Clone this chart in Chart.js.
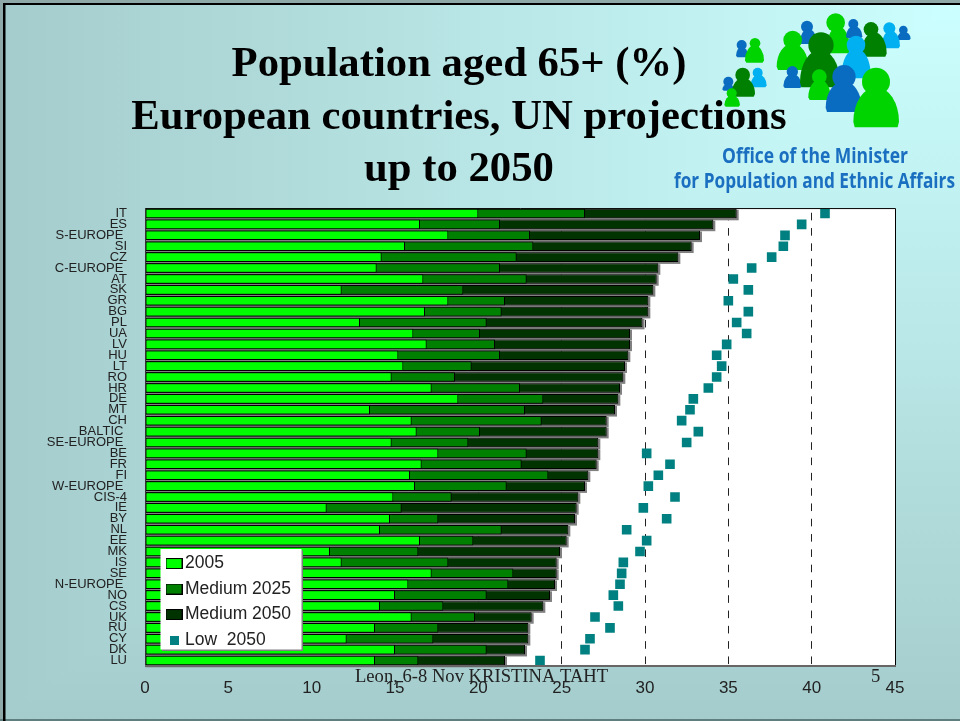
<!DOCTYPE html>
<html><head><meta charset="utf-8">
<style>html,body{margin:0;padding:0;background:#a5cccc}canvas{display:block}</style>
<script src="https://cdn.jsdelivr.net/npm/chart.js@4"></script>
</head><body>
<canvas id="c" width="960" height="721"></canvas>
<script>
const categories = ["IT","ES","S-EUROPE ","SI","CZ","C-EUROPE ","AT","SK","GR","BG","PL","UA","LV","HU","LT","RO","HR","DE","MT","CH","BALTIC ","SE-EUROPE ","BE","FR","FI","W-EUROPE ","CIS-4","IE","BY","NL","EE","MK","IS","SE","N-EUROPE ","NO","CS","UK","RU","CY","DK","LU"];
const values2005 = [20.0,16.5,18.2,15.6,14.2,13.9,16.7,11.8,18.2,16.8,12.9,16.1,16.9,15.2,15.5,14.8,17.2,18.8,13.5,16.0,16.3,14.8,17.6,16.6,15.9,16.2,14.9,10.9,14.7,14.1,16.5,11.1,11.8,17.2,15.8,15.0,14.1,16.0,13.8,12.1,15.0,13.8];
const medium2025 = [26.4,21.3,23.1,23.3,22.3,21.3,22.9,19.1,21.6,21.4,20.5,20.1,21.0,21.3,19.6,18.6,22.5,23.9,22.8,23.8,20.1,19.4,22.9,22.6,24.2,21.7,18.4,15.4,17.6,21.4,19.7,16.4,18.2,22.1,21.8,20.5,17.9,19.8,17.6,17.3,20.5,16.4];
const medium2050 = [35.5,34.1,33.3,32.8,32.0,30.8,30.7,30.5,30.2,30.2,29.85,29.1,29.1,29.0,28.8,28.7,28.5,28.4,28.2,27.7,27.7,27.2,27.2,27.1,26.6,26.4,26.0,25.9,25.8,25.4,25.3,24.9,24.7,24.7,24.6,24.3,23.9,23.2,23.0,23.0,22.8,21.6];
const low2050 = [40.8,39.4,38.4,38.3,37.6,36.4,35.3,36.2,35.0,36.2,35.5,36.1,34.9,34.3,34.6,34.3,33.8,32.9,32.7,32.2,33.2,32.5,30.1,31.5,30.8,30.2,31.8,29.9,31.3,28.9,30.1,29.7,28.7,28.6,28.5,28.1,28.4,27.0,27.9,26.7,26.4,23.7];
const seriesNames = ["2005","Medium 2025","Medium 2050","Low  2050"];
const seriesColors = ["#00ff00","#008000","#003300","#008080"];
const titleLines = ["Population aged 65+ (%)","European countries, UN projections","up to 2050"];
const xTicks = [0,5,10,15,20,25,30,35,40,45];
const logoLines = ["Office of the Minister","for Population and Ethnic Affairs"];
const footerText = "Leon, 6-8 Nov KRISTINA TAHT";
const footerPage = "5";
// logo figures: head x, head y, head r, body left, body right, body bottom, colour (drawn at 1/3 scale)
const BL="#0a6cc0",GR="#00d400",DG="#008000",LB="#00b0f0";
const logoPeople = [
 [245,135,15,228,264,172,BL],[285,130,16,255,312,188,GR],
 [441,80,18,420,470,132,BL],[527,68,28,500,570,160,GR],[580,72,15,558,607,115,BL],
 [730,90,13,712,752,120,BL],[688,85,18,665,720,145,LB],[633,88,22,605,680,170,DG],
 [398,120,28,350,445,210,GR],[588,135,28,545,632,235,LB],[397,215,17,370,425,264,BL],
 [483,135,38,420,540,262,DG],[478,230,22,445,512,300,GR],[552,230,35,497,605,336,BL],
 [648,245,42,580,717,382,GR],[293,218,15,272,320,262,LB],[205,245,15,187,222,272,BL],
 [248,225,22,215,285,290,DG],[215,280,15,193,240,320,GR]
];

function swatch(color,w,h,border){
  const s=document.createElement('canvas');s.width=w;s.height=h;
  const g=s.getContext('2d');g.fillStyle=color;g.fillRect(0,0,w,h);
  if(border){g.strokeStyle='#000';g.lineWidth=1;g.strokeRect(.5,.5,w-1,h-1);}
  return s;
}
const scene = {
  id:'scene',
  afterInit(chart){
    const lg=chart.legend;
    lg._layers=()=>[{z:5,draw(){
      const c=chart.ctx;
      c.save();
      c.fillStyle='#808080';c.fillRect(162,550.5,141,100.5);
      c.fillStyle='#fff';c.fillRect(160.5,549,141,100.5);
      c.restore();
      lg.left=171.75-8;lg.right=310;lg.top=546.8;lg.bottom=660;lg.width=lg.right-lg.left;lg.height=lg.bottom-lg.top;
      lg.draw();
    }}];
  },
  afterLayout(chart){chart.titleBlock.left=0;chart.titleBlock.right=918;},
  beforeDraw(chart){
    const c=chart.ctx,W=960,H=721;
    c.save();
    // corner-path slide background
    const gh=c.createLinearGradient(W,0,0,0);gh.addColorStop(0,'#ccffff');gh.addColorStop(1,'#a5cccc');
    const gv=c.createLinearGradient(0,0,0,H);gv.addColorStop(0,'#ccffff');gv.addColorStop(1,'#a5cccc');
    c.fillStyle=gv;c.fillRect(0,0,W,H);
    c.beginPath();c.moveTo(W,0);c.lineTo(0,0);c.lineTo(0,H);c.closePath();c.fillStyle=gh;c.fill();
    c.fillStyle='#8fa8a8';c.fillRect(0,0,W,3);c.fillRect(0,0,3,H);c.fillStyle='#5f7f7f';c.fillRect(0,719,W,2);
    c.fillStyle='#000';c.fillRect(3,3,W-3,2);c.fillRect(3,3,2.5,H-3);
    // logo
    c.translate(660,0);c.scale(1/3,1/3);
    logoPeople.forEach(p=>{
      c.fillStyle=p[6];
      c.beginPath();c.arc(p[0],p[1],p[2],0,Math.PI*2);c.fill();
      const cx=(p[3]+p[4])/2;
      c.beginPath();c.ellipse(cx,p[5]-(p[5]-p[1])*0.12,(p[4]-p[3])/2,(p[5]-p[1]-p[2]*0.5)*0.9,0,Math.PI,0);
      c.lineTo(p[4]-4,p[5]);c.lineTo(p[3]+4,p[5]);c.closePath();c.fill();
    });
    c.restore();
    c.save();
    c.textAlign='center';c.textBaseline='middle';c.fillStyle='#1a6fc0';
    c.font='700 21px "Open Sans"';
    c.fillText(logoLines[0],815,157,186);
    c.fillText(logoLines[1],814.5,182.5,281);
    c.restore();
    const a=chart.chartArea;
    c.fillStyle='#fff';c.fillRect(a.left,a.top,a.right-a.left,a.bottom-a.top);
  },
  beforeDatasetsDraw(chart){
    const c=chart.ctx;c.save();c.fillStyle='#808080';
    chart.getDatasetMeta(2).data.forEach(b=>{
      c.fillRect(b.base,b.y-b.height/2+1,b.x-b.base+2,b.height+1);
    });
    c.restore();
  },
  afterDatasetsDraw(chart){
    const c=chart.ctx,a=chart.chartArea;c.save();
    c.strokeStyle='#000';c.lineWidth=1;
    c.beginPath();c.moveTo(a.left,a.top+.5);c.lineTo(a.right+.5,a.top+.5);c.lineTo(a.right+.5,a.bottom);c.stroke();
    c.strokeStyle='#333';c.beginPath();c.moveTo(a.left+.5,a.top);c.lineTo(a.left+.5,a.bottom);c.stroke();
    c.fillStyle='#666';c.fillRect(a.left,a.bottom-1,a.right-a.left+1,2);
    c.restore();
  },
  afterDraw(chart){
    const c=chart.ctx;c.save();
    c.fillStyle='#222';c.textBaseline='middle';c.textAlign='left';
    c.font='18.6px "Liberation Serif"';
    c.fillText(footerText,355,677);
    c.fillText(footerPage,871,677);
    c.restore();
  }
};
const barDs=(i,d)=>({label:seriesNames[i],data:d,backgroundColor:seriesColors[i],borderColor:'#000',borderWidth:1,borderSkipped:false,grouped:false,barPercentage:.88,categoryPercentage:1,order:i+1});
new Chart(document.getElementById('c'),{
  type:'bar',
  plugins:[scene],
  data:{labels:categories,datasets:[
    barDs(0,values2005),barDs(1,medium2025),barDs(2,medium2050),
    {type:'line',label:seriesNames[3],data:low2050,showLine:false,pointStyle:'rect',pointRadius:6.8,pointBorderWidth:0,pointBackgroundColor:seriesColors[3],borderColor:seriesColors[3],order:0}
  ]},
  options:{
    indexAxis:'y',responsive:false,animation:false,devicePixelRatio:1,
    layout:{padding:{left:0,right:65,top:0,bottom:0}},
    plugins:{
      tooltip:{enabled:false},
      title:{display:true,text:titleLines,color:'#000',align:'center',font:{family:'"Liberation Serif"',size:42.7,weight:'bold',lineHeight:1.23},padding:{top:39,bottom:11.5}},
      legend:{display:true,position:'chartArea',align:'start',labels:{
        usePointStyle:true,pointStyleWidth:4.5,boxHeight:10,padding:8,color:'#222',
        font:{family:'"Liberation Sans"',size:17.5},
        generateLabels(){return seriesNames.map((n,i)=>({text:n,fontColor:'#222',fillStyle:seriesColors[i],strokeStyle:'#000',lineWidth:1,hidden:false,datasetIndex:i,pointStyle:i<3?swatch(seriesColors[i],17,11,true):swatch(seriesColors[3],9,9,false)}));}
      }}
    },
    scales:{
      x:{type:'linear',min:0,max:45,position:'bottom',
        afterBuildTicks(s){s.ticks=xTicks.map(v=>({value:v}));},
        afterFit(s){s.height=55;},
        grid:{drawTicks:false,lineWidth:1,color:c=>(c.tick&&(c.tick.value===0||c.tick.value===45))?'rgba(0,0,0,0)':'#222'},
        border:{display:false,dash:[7.6,7.7],dashOffset:10.6},
        ticks:{padding:12,color:'#222',font:{family:'"Liberation Sans"',size:17},maxRotation:0}
      },
      y:{type:'category',
        afterFit(s){s.width=145;},
        grid:{display:false,drawTicks:false},border:{display:false},
        ticks:{autoSkip:false,padding:18,color:'#222',font:{family:'"Liberation Sans"',size:13}}
      }
    }
  }
});
</script>
</body></html>
